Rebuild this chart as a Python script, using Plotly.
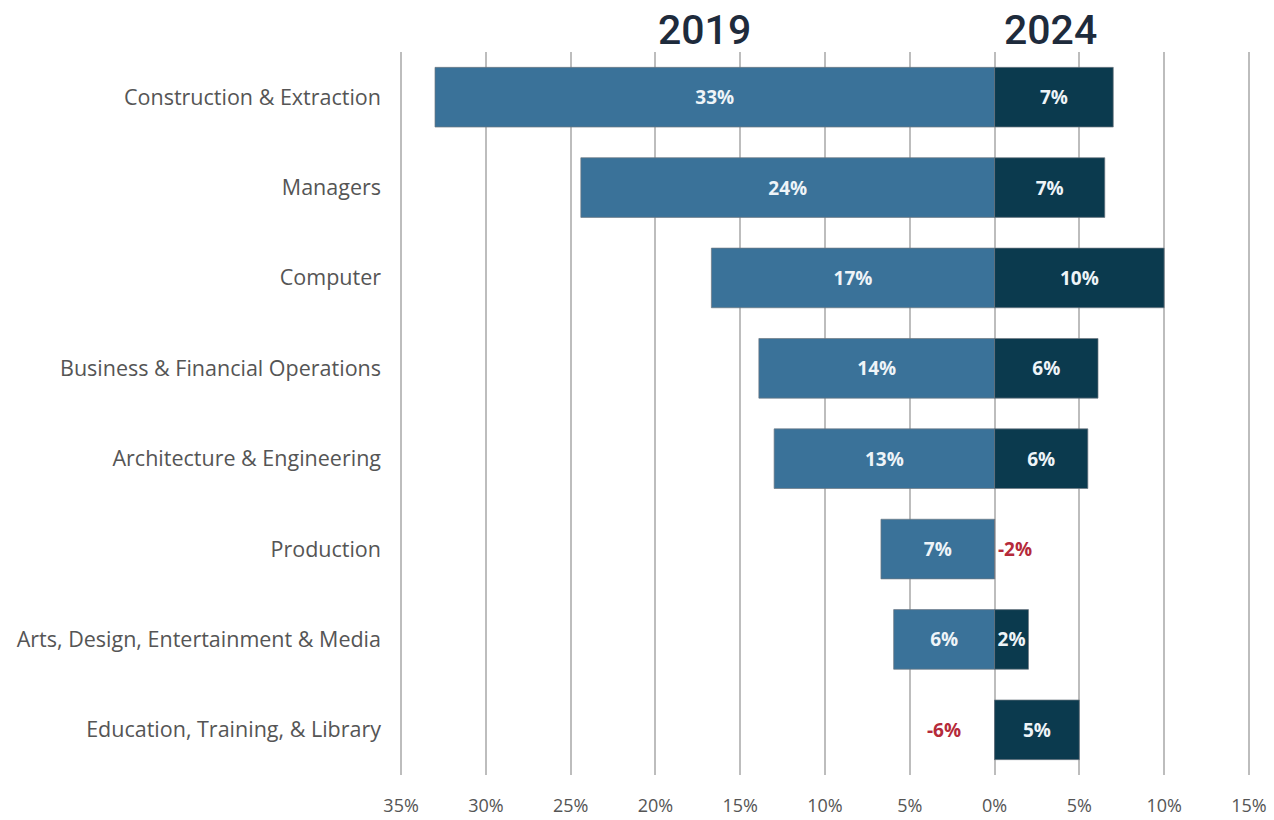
import numpy as np
import plotly.graph_objects as go

categories = [
    "Construction & Extraction",
    "Managers",
    "Computer",
    "Business & Financial Operations",
    "Architecture & Engineering",
    "Production",
    "Arts, Design, Entertainment & Media",
    "Education, Training, & Library",
]
# bar lengths (percent)
growth_2019 = [33, 24.4, 16.7, 13.9, 13.0, 6.7, 5.95, -6]
growth_2024 = [7, 6.5, 10, 6.1, 5.5, -2, 2, 5]
labels_2019 = ["33%", "24%", "17%", "14%", "13%", "7%", "6%", "-6%"]
labels_2024 = ["7%", "7%", "10%", "6%", "6%", "-2%", "2%", "5%"]
tick_vals = [-35, -30, -25, -20, -15, -10, -5, 0, 5, 10, 15]
tick_text = ["35%", "30%", "25%", "20%", "15%", "10%", "5%", "0%", "5%", "10%", "15%"]

C2019 = "#3a7299"
C2024 = "#0b3a4e"
RED = "#b52a3a"

g19 = np.array(growth_2019, dtype=float)
g24 = np.array(growth_2024, dtype=float)

bar19 = np.where(g19 > 0, -g19, 0)
bar24 = np.where(g24 > 0, g24, 0)
txt19 = [t if v > 0 else "" for t, v in zip(labels_2019, g19)]
txt24 = [t if v > 0 else "" for t, v in zip(labels_2024, g24)]

fig = go.Figure()
common = dict(
    orientation="h",
    width=0.66,
    textposition="inside",
    insidetextanchor="middle",
    constraintext="none",
    textangle=0,
    textfont=dict(family="Open Sans", size=19, color="#eef4f8", weight="bold"),
    hoverinfo="skip",
)
fig.add_trace(go.Bar(y=categories, x=bar19, base=0, text=txt19,
                     marker=dict(color=C2019, line=dict(color="rgba(110,120,130,0.7)", width=1)),
                     name="2019", **common))
fig.add_trace(go.Bar(y=categories, x=bar24, base=0, text=txt24,
                     marker=dict(color=C2024, line=dict(color="rgba(110,120,130,0.7)", width=1)),
                     name="2024", **common))

# negative values: red labels only
for cat, v, t in zip(categories, g19, labels_2019):
    if v <= 0:
        fig.add_annotation(x=v / 2, y=cat, text=t, showarrow=False,
                           font=dict(family="Open Sans", size=19, color=RED, weight="bold"))
for cat, v, t in zip(categories, g24, labels_2024):
    if v <= 0:
        fig.add_annotation(x=-v / 2 + 0.2, y=cat, text=t, showarrow=False,
                           font=dict(family="Open Sans", size=19, color=RED, weight="bold"))

fig.add_annotation(x=-17.1, y=1.031, yref="paper", text="2019", showarrow=False,
                   yanchor="middle",
                   font=dict(family="Roboto", size=41, color="#1e2b3c", weight=500))
fig.add_annotation(x=3.3, y=1.031, yref="paper", text="2024", showarrow=False,
                   yanchor="middle",
                   font=dict(family="Roboto", size=41, color="#1e2b3c", weight=500))

fig.update_layout(
    width=1274, height=820,
    margin=dict(l=396, r=20, t=52, b=45),
    paper_bgcolor="white", plot_bgcolor="white",
    barmode="overlay",
    showlegend=False,
    xaxis=dict(range=[-35.3, 15.3], tickvals=tick_vals, ticktext=tick_text,
               showgrid=True, gridcolor="#bdbdbd", gridwidth=2,
               zeroline=True, zerolinecolor="#bdbdbd", zerolinewidth=2,
               ticks="", ticklabelstandoff=18, automargin=False,
               tickfont=dict(family="Open Sans", size=18, color="#555555"),
               fixedrange=True),
    yaxis=dict(autorange="reversed", showgrid=False, zeroline=False,
               ticks="", ticklabelstandoff=14, automargin=False,
               tickfont=dict(family="Open Sans", size=21.5, color="#555555"),
               fixedrange=True),
)

fig.write_html("out.html", config={"displayModeBar": False},
               post_script="document.body.style.margin='0';document.body.style.overflow='hidden';")
